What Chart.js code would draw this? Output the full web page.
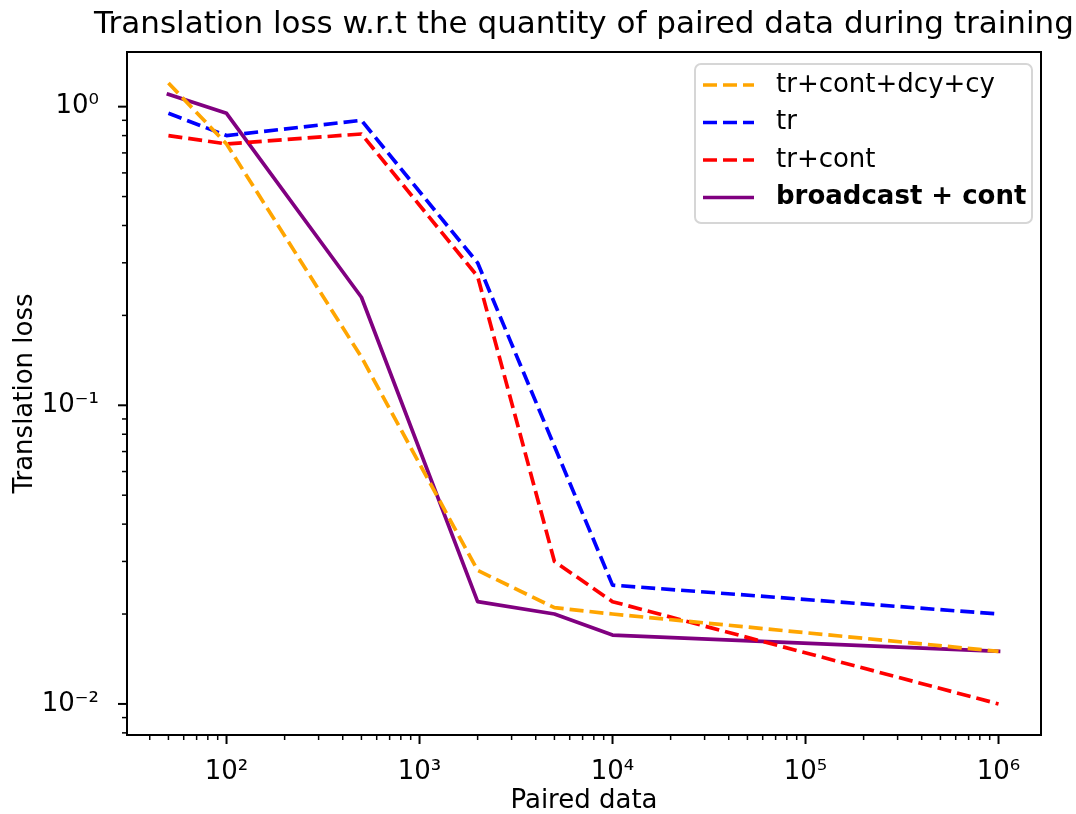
<!DOCTYPE html>
<html>
<head>
<meta charset="utf-8">
<script src="https://cdn.jsdelivr.net/npm/chart.js@4/dist/chart.umd.min.js"></script>
<style>
    html, body { margin: 0; padding: 0; background: #ffffff; }
    #wrap { width: 1076px; height: 814px; }
</style>
</head>
<body>
<div id="wrap"><canvas id="lossChart" width="1076" height="814"></canvas></div>
<script>
// values
const paired_data = [50, 100, 500, 2000, 5000, 10000, 1000000];

const loss_tr_cont_dcy_cy = [1.20, 0.75, 0.145, 0.028, 0.021, 0.020, 0.015];
const loss_tr = [0.95, 0.80, 0.90, 0.30, null, 0.025, 0.020];
const loss_tr_cont = [0.80, 0.75, 0.81, 0.27, 0.030, 0.022, 0.010];
const loss_broadcast_cont = [1.10, 0.95, 0.23, 0.022, 0.020, 0.017, 0.015];

const series_labels = ['tr+cont+dcy+cy', 'tr', 'tr+cont', 'broadcast + cont'];
const series_colors = ['orange', 'blue', 'red', 'purple'];

const x_ticks = [100, 1000, 10000, 100000, 1000000];
const x_tick_labels = ['10²', '10³', '10⁴', '10⁵', '10⁶'];
const y_ticks = [0.01, 0.1, 1];
const y_tick_labels = ['10⁻²', '10⁻¹', '10⁰'];

const chart_title = 'Translation loss w.r.t the quantity of paired data during training';

const FONT = "'DejaVu Sans', sans-serif";

window.onload = () => {
    draw_chart();
}

function points(vals) {
    return paired_data.map((x, i) => ({x: x, y: vals[i]}));
}

// major ticks at the powers of ten, minor ticks at 2..9 of each decade
function log_ticks(min, max) {
    let ticks = [];
    let e0 = Math.floor(Math.log10(min));
    let e1 = Math.ceil(Math.log10(max));
    for (let e = e0; e <= e1; e++) {
        for (let m = 1; m <= 9; m++) {
            let v = Number((m * Math.pow(10, e)).toPrecision(6));
            if (v < min || v > max) continue;
            ticks.push({value: v, major: m === 1});
        }
    }
    return ticks;
}

function label_for(value, values, labels) {
    for (let i = 0; i < values.length; i++) {
        if (Math.abs(Math.log10(value) - Math.log10(values[i])) < 1e-6) return labels[i];
    }
    return '';
}

const frame_and_ticks = {
    id: 'frame_and_ticks',
    afterDatasetsDraw(chart) {
        const ctx = chart.ctx;
        const a = chart.chartArea;
        const xs = chart.scales.x;
        const ys = chart.scales.y;
        ctx.save();
        ctx.strokeStyle = '#000000';
        ctx.lineWidth = 2;
        ctx.strokeRect(a.left, a.top, a.right - a.left, a.bottom - a.top);

        xs.ticks.forEach(t => {
            let px = xs.getPixelForValue(t.value);
            ctx.lineWidth = t.major ? 2 : 1.5;
            ctx.beginPath();
            ctx.moveTo(px, a.bottom);
            ctx.lineTo(px, a.bottom + (t.major ? 9 : 5));
            ctx.stroke();
        });
        ys.ticks.forEach(t => {
            let py = ys.getPixelForValue(t.value);
            ctx.lineWidth = t.major ? 2 : 1.5;
            ctx.beginPath();
            ctx.moveTo(a.left, py);
            ctx.lineTo(a.left - (t.major ? 9 : 5), py);
            ctx.stroke();
        });

        // title centred over the axes, like matplotlib
        ctx.fillStyle = '#000000';
        ctx.font = '31px ' + FONT;
        ctx.textAlign = 'center';
        ctx.textBaseline = 'middle';
        ctx.fillText(chart_title, (a.left + a.right) / 2, 25);
        ctx.restore();
    }
};

const inner_legend = {
    id: 'inner_legend',
    afterDraw(chart) {
        const ctx = chart.ctx;
        const box = {left: 695, top: 64, right: 1032, bottom: 223};
        ctx.save();
        ctx.beginPath();
        ctx.roundRect(box.left, box.top, box.right - box.left, box.bottom - box.top, 6);
        ctx.fillStyle = 'rgba(255,255,255,0.8)';
        ctx.fill();
        ctx.strokeStyle = '#d6d6d6';
        ctx.lineWidth = 2;
        ctx.stroke();

        chart.data.datasets.forEach((ds, i) => {
            let cy = 85 + i * 37.5;
            ctx.beginPath();
            ctx.setLineDash(ds.borderDash || []);
            ctx.strokeStyle = ds.borderColor;
            ctx.lineWidth = ds.borderWidth;
            ctx.moveTo(703, cy);
            ctx.lineTo(754, cy);
            ctx.stroke();
            ctx.setLineDash([]);
            ctx.fillStyle = '#000000';
            ctx.textBaseline = 'middle';
            ctx.textAlign = 'left';
            ctx.font = (i === 3 ? 'bold ' : '') + '26px ' + FONT;
            ctx.fillText(ds.label, 776, cy);
        });
        ctx.restore();
    }
};

function draw_chart() {
    const ctx = document.getElementById('lossChart').getContext('2d');
    const all_series = [loss_tr_cont_dcy_cy, loss_tr, loss_tr_cont, loss_broadcast_cont];

    const datasets = all_series.map((vals, i) => ({
        label: series_labels[i],
        data: points(vals),
        borderColor: series_colors[i],
        backgroundColor: series_colors[i],
        borderWidth: 3.7,
        borderDash: i === 3 ? [] : [14, 6],
        borderJoinStyle: 'round',
        borderCapStyle: i === 3 ? 'square' : 'butt',
        pointRadius: 0,
        tension: 0,
        spanGaps: true,
        fill: false
    }));

    Chart.defaults.font.family = FONT;
    Chart.defaults.color = '#000000';

    window.lossChart = new Chart(ctx, {
        type: 'line',
        data: {datasets: datasets},
        plugins: [frame_and_ticks, inner_legend],
        options: {
            responsive: false,
            animation: false,
            devicePixelRatio: 1,
            layout: {
                padding: {left: 0, right: 35, top: 52, bottom: 0}
            },
            plugins: {
                legend: {display: false},
                tooltip: {enabled: false},
                title: {display: false}
            },
            scales: {
                x: {
                    type: 'logarithmic',
                    min: 30.5,
                    max: 1.66e6,
                    afterBuildTicks: (axis) => { axis.ticks = log_ticks(axis.min, axis.max); },
                    afterFit: (axis) => { axis.height = 79; },
                    grid: {display: false},
                    border: {display: false},
                    ticks: {
                        autoSkip: false,
                        maxRotation: 0,
                        padding: 14,
                        font: {size: 26},
                        color: '#000000',
                        callback: (value) => label_for(value, x_ticks, x_tick_labels)
                    },
                    title: {
                        display: true,
                        text: 'Paired data',
                        font: {size: 26, lineHeight: 1.0},
                        color: '#000000',
                        padding: {top: 0, bottom: 0}
                    }
                },
                y: {
                    type: 'logarithmic',
                    min: 0.00787,
                    max: 1.524,
                    afterBuildTicks: (axis) => { axis.ticks = log_ticks(axis.min, axis.max); },
                    afterFit: (axis) => { axis.width = 127; },
                    grid: {display: false},
                    border: {display: false},
                    ticks: {
                        autoSkip: false,
                        padding: 20,
                        font: {size: 26},
                        color: '#000000',
                        callback: (value) => label_for(value, y_ticks, y_tick_labels)
                    },
                    title: {
                        display: true,
                        text: 'Translation loss',
                        font: {size: 26, lineHeight: 1.0},
                        color: '#000000',
                        padding: {top: 12, bottom: 0}
                    }
                }
            }
        }
    });
}
</script>
</body>
</html>
